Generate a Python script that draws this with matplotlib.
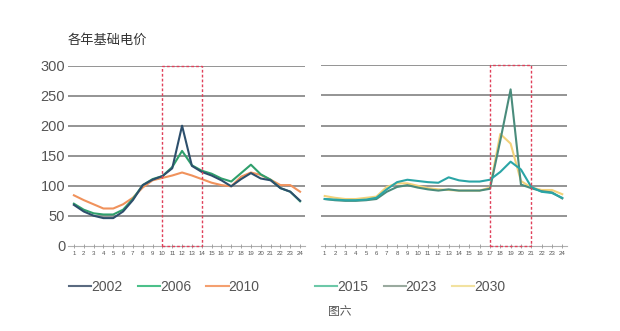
import matplotlib.pyplot as plt
import matplotlib.patches as patches
from matplotlib.lines import Line2D

plt.rcParams['font.family'] = ['Liberation Sans', 'Noto Sans CJK SC', 'DejaVu Sans']

hours = list(range(1, 25))

# 左图: 2002 / 2006 / 2010
p2002 = [68, 57, 50, 46, 46, 57, 76, 101, 110, 116, 129, 200,
         133, 123, 117, 109, 99, 111, 121, 112, 109, 96, 90, 75]
p2006 = [70, 60, 54, 52, 52, 60, 78, 101, 111, 116, 131, 158,
         134, 125, 120, 112, 107, 121, 135, 119, 110, 96, 90, 74]
p2010 = [84, 76, 69, 62, 62, 69, 80, 97, 109, 113, 117, 122,
         117, 111, 105, 101, 99, 115, 122, 118, 110, 101, 101, 90]

# 右图: 2015 / 2023 / 2030
p2015 = [78, 77, 76, 76, 77, 80, 94, 106, 110, 108, 106, 105,
         114, 109, 107, 107, 110, 123, 140, 127, 98, 90, 88, 80]
p2023 = [78, 76, 75, 75, 76, 78, 90, 98, 101, 97, 94, 92,
         94, 92, 92, 92, 95, 175, 260, 102, 96, 91, 89, 79]
p2030 = [83, 80, 78, 78, 80, 82, 98, 104, 104, 100, 96, 94,
         93, 92, 92, 92, 97, 186, 170, 108, 97, 93, 93, 86]

yticks = [0, 50, 100, 150, 200, 250, 300]

W, H = 620, 331
fig = plt.figure(figsize=(W / 100, H / 100), dpi=100)


def px_axes(x0, x1, ytop, ybot):
    return fig.add_axes([x0 / W, (H - ybot) / H, (x1 - x0) / W, (ybot - ytop) / H])


ax1 = px_axes(68, 305, 65.7, 245.7)
ax2 = px_axes(320.7, 567, 65.3, 246)


def style(ax, xlim):
    ax.set_xlim(*xlim)
    ax.set_ylim(0, 300)
    for s in ax.spines.values():
        s.set_visible(False)
    for y in yticks[1:]:
        ax.axhline(y, color='#828282', lw=1.2, zorder=1)
    ax.axhline(0, color='#b0b0b0', lw=0.8, zorder=1, clip_on=False)
    ax.set_xticks(hours)
    ax.set_xticklabels([str(h) for h in hours], fontsize=4.4, color='#555555')
    ax.tick_params(axis='x', direction='inout', length=3, width=0.6,
                   color='#999999', pad=2)


style(ax1, (0.4, 24.5))
style(ax2, (0.61, 24.46))

ax1.set_yticks(yticks)
ax1.set_yticklabels([str(v) for v in yticks], fontsize=10.5, color='#555555')
ax1.tick_params(axis='y', length=0, pad=2)
ax2.set_yticks([])

lw = 1.5
ax1.plot(hours, p2010, color='#f0925c', lw=lw, zorder=3)
ax1.plot(hours, p2006, color='#2f9f6c', lw=lw, zorder=4)
ax1.plot(hours, p2002, color='#2d4f6c', lw=lw, zorder=5)

ax2.plot(hours, p2030, color='#f3d27a', lw=lw, zorder=3)
ax2.plot(hours, p2023, color='#4a8c7c', lw=lw, zorder=4)
ax2.plot(hours, p2015, color='#2aa5a6', lw=lw, zorder=5)

# 红色虚线框
for ax, (a, b) in [(ax1, (10, 14)), (ax2, (17, 21))]:
    ax.add_patch(patches.Rectangle((a, 0), b - a, 300, fill=False,
                                   edgecolor='#e0405a', lw=1.0,
                                   linestyle=(0, (2, 1.5)), zorder=6,
                                   clip_on=False))

fig.text(68 / W, 1 - 40 / H, '各年基础电价', fontsize=9.5, color='#333333',
         va='center', ha='left', family=['Noto Sans CJK SC', 'DejaVu Sans'])


# 图例
def legend(x0, labels, colors):
    handles = [Line2D([], [], color=c, lw=1.5) for c in colors]
    fig.legend(handles, labels, loc='center left',
               bbox_to_anchor=(x0 / W, 1 - 287 / H), ncol=3, frameon=False,
               fontsize=10, handlelength=1.6, handletextpad=0.0,
               columnspacing=1.1, borderpad=0, borderaxespad=0,
               labelcolor='#555555')


legend(69, ['2002', '2006', '2010'], ['#5a6a80', '#4cc08a', '#f4a070'])
legend(315, ['2015', '2023', '2030'], ['#6cc8a8', '#9aaa9f', '#f2e2a0'])

fig.text(328 / W, 1 - 311 / H, '图六', fontsize=8.5, color='#555555',
         va='center', ha='left', family=['Noto Sans CJK SC', 'DejaVu Sans'])

fig.savefig('out.png', dpi=100, facecolor='white')
